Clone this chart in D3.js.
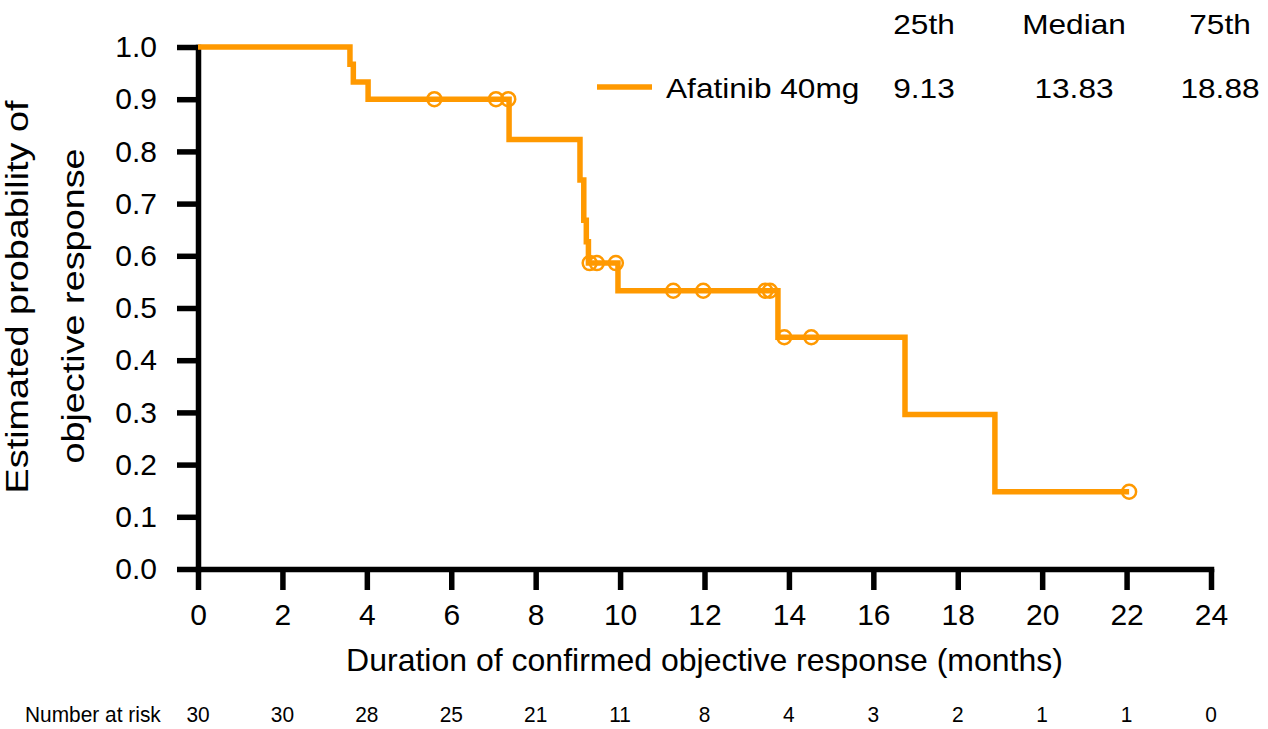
<!DOCTYPE html>
<html>
<head>
<meta charset="utf-8">
<script src="https://cdn.jsdelivr.net/npm/d3@7"></script>
<style>
  body { margin: 0; background: #fff; }
  svg { display: block; }
  text { font-family: "Liberation Sans", Arial, sans-serif; fill: #000; }
</style>
</head>
<body>
<div id="chart"></div>
<script>
// KM step data
const stepTimes = [0, 3.6, 3.68, 4.03, 7.37, 9.05, 9.14, 9.2, 9.25, 9.95, 13.74, 16.75, 18.88];
const stepSurv  = [1.0, 0.967, 0.933, 0.9, 0.823, 0.745, 0.668, 0.627, 0.586, 0.533, 0.444, 0.296, 0.148];
const lastTime = 22.06;

const censorTimes = [5.6, 7.06, 7.35, 9.28, 9.45, 9.9, 11.26, 11.97, 13.44, 13.55, 13.89, 14.53, 22.06];
const censorSurv  = [0.9, 0.9, 0.9, 0.586, 0.586, 0.586, 0.533, 0.533, 0.533, 0.533, 0.444, 0.444, 0.148];

const xTicks = [0, 2, 4, 6, 8, 10, 12, 14, 16, 18, 20, 22, 24];
const yTicks = [0, 0.1, 0.2, 0.3, 0.4, 0.5, 0.6, 0.7, 0.8, 0.9, 1.0];
const atRisk = [30, 30, 28, 25, 21, 11, 8, 4, 3, 2, 1, 1, 0];

const statHeaders = ["25th", "Median", "75th"];
const statValues = ["9.13", "13.83", "18.88"];
const seriesName = "Afatinib 40mg";

const W = 1268, H = 729;
const orange = "#ff9900";

const svg = d3.select("#chart").append("svg")
  .attr("width", W)
  .attr("height", H);

const x = d3.scaleLinear().domain([0, 24]).range([198, 1211]);
const y = d3.scaleLinear().domain([0, 1]).range([569, 47]);

// axes
const xAxis = d3.axisBottom(x).tickValues(xTicks).tickSize(21).tickSizeOuter(0).tickPadding(14)
  .tickFormat(d3.format("d"));
const yAxis = d3.axisLeft(y).tickValues(yTicks).tickSize(21).tickSizeOuter(0).tickPadding(20)
  .tickFormat(d3.format(".1f"));

const gx = svg.append("g").attr("transform", `translate(0,${y(0)})`).call(xAxis);
const gy = svg.append("g").attr("transform", `translate(${x(0)},0)`).call(yAxis);

[gx, gy].forEach(g => {
  g.select(".domain").attr("stroke", "#000").attr("stroke-width", 5.5).attr("stroke-linecap", "square");
  g.selectAll(".tick line").attr("stroke", "#000").attr("stroke-width", 5.5);
  g.selectAll(".tick text")
    .style("font-family", '"Liberation Sans", Arial, sans-serif')
    .attr("font-size", 30)
    .attr("fill", "#000");
});

// KM curve
const pts = stepTimes.map((t, i) => [t, stepSurv[i]]);
pts.push([lastTime, stepSurv[stepSurv.length - 1]]);

const line = d3.line()
  .x(d => x(d[0]))
  .y(d => y(d[1]))
  .curve(d3.curveStepAfter);

svg.append("path")
  .datum(pts)
  .attr("d", line)
  .attr("fill", "none")
  .attr("stroke", orange)
  .attr("stroke-width", 5.5)
  .attr("stroke-linejoin", "miter");

// censor marks
svg.append("g").selectAll("circle")
  .data(censorTimes.map((t, i) => [t, censorSurv[i]]))
  .join("circle")
  .attr("cx", d => x(d[0]))
  .attr("cy", d => y(d[1]))
  .attr("r", 7)
  .attr("fill", "none")
  .attr("stroke", orange)
  .attr("stroke-width", 2.5);

// axis titles
svg.append("text")
  .attr("x", (x(0) + x(24)) / 2)
  .attr("y", 671)
  .attr("text-anchor", "middle")
  .attr("font-size", 32)
  .text("Duration of confirmed objective response (months)");

svg.append("text")
  .attr("transform", "translate(28,297) rotate(-90) scale(1.22,1)")
  .attr("text-anchor", "middle")
  .attr("font-size", 31)
  .text("Estimated probability of");

svg.append("text")
  .attr("transform", "translate(84,306) rotate(-90) scale(1.22,1)")
  .attr("text-anchor", "middle")
  .attr("font-size", 31)
  .text("objective response");

// legend + quartile table
const colX = [924, 1074, 1220];

svg.append("line")
  .attr("x1", 597).attr("x2", 652)
  .attr("y1", 87).attr("y2", 87)
  .attr("stroke", orange)
  .attr("stroke-width", 5.5);

svg.append("text")
  .attr("transform", "translate(666,98) scale(1.13,1)")
  .attr("font-size", 28)
  .text(seriesName);

statHeaders.forEach((h, i) => {
  svg.append("text")
    .attr("transform", `translate(${colX[i]},34) scale(1.13,1)`)
    .attr("text-anchor", "middle")
    .attr("font-size", 28)
    .text(h);
  svg.append("text")
    .attr("transform", `translate(${colX[i]},98) scale(1.13,1)`)
    .attr("text-anchor", "middle")
    .attr("font-size", 28)
    .text(statValues[i]);
});

// number at risk
svg.append("text")
  .attr("transform", "translate(25,722) scale(0.95,1)")
  .attr("font-size", 22)
  .text("Number at risk");

svg.append("g").selectAll("text")
  .data(xTicks)
  .join("text")
  .attr("transform", d => `translate(${x(d)},722) scale(0.95,1)`)
  .attr("text-anchor", "middle")
  .attr("font-size", 22)
  .text((d, i) => atRisk[i]);
</script>
</body>
</html>
